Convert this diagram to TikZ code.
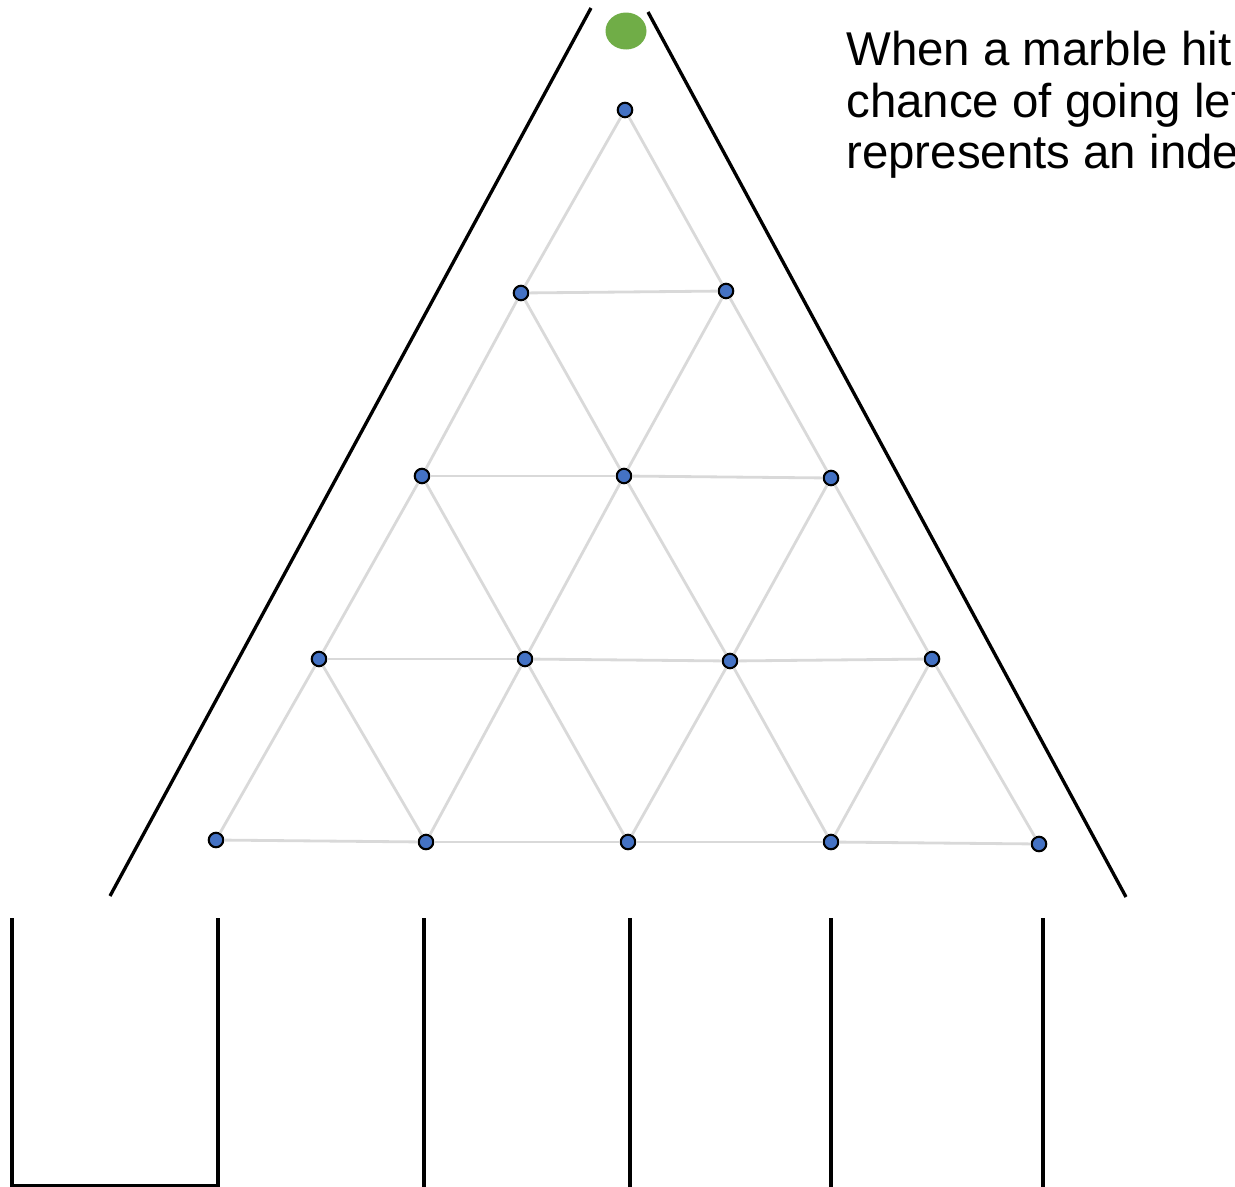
\documentclass[tikz,border=0pt]{standalone}
\usepackage{fontspec}
\setmainfont{Liberation Sans}
\usetikzlibrary{shapes.geometric}
\definecolor{pegblue}{HTML}{4472C4}
\definecolor{gridgrey}{HTML}{D9D9D9}
\definecolor{marblegreen}{HTML}{70AD47}
\begin{document}
\begin{tikzpicture}[x=0.02cm,y=-0.02cm,
  pegnode/.style={circle,draw=black,line width=1.2pt,fill=pegblue,minimum size=0.29cm,inner sep=0pt},
  gridline/.style={draw=gridgrey,line width=1.6pt},
  wall/.style={draw=black,line width=1.9pt},
  txt/.style={anchor=base west,inner sep=0pt,font=\fontsize{27}{30}\selectfont}]
\useasboundingbox (0,0) rectangle (1235,1187);
\clip (0,0) rectangle (1235,1187);
% walls
\draw[wall] (591,8) -- (110,896);
\draw[wall] (648,12) -- (1126,897);
% bins
\draw[wall] (12,918) -- (12,1186) -- (218,1186) -- (218,918);
\foreach \x in {424,630,831,1043}{\draw[wall] (\x,918) -- (\x,1187);}
% marble
\node[ellipse,fill=marblegreen,minimum width=0.82cm,minimum height=0.74cm,inner sep=0pt] (marble) at (626,31) {};
% pegs
\node[pegnode] (p00) at (625,110) {};
\node[pegnode] (p10) at (521,293) {};
\node[pegnode] (p11) at (726,291) {};
\node[pegnode] (p20) at (422,476) {};
\node[pegnode] (p21) at (624,476) {};
\node[pegnode] (p22) at (831,478) {};
\node[pegnode] (p30) at (319,659) {};
\node[pegnode] (p31) at (525,659) {};
\node[pegnode] (p32) at (730,661) {};
\node[pegnode] (p33) at (932,659) {};
\node[pegnode] (p40) at (216,840) {};
\node[pegnode] (p41) at (426,842) {};
\node[pegnode] (p42) at (628,842) {};
\node[pegnode] (p43) at (831,842) {};
\node[pegnode] (p44) at (1039,844) {};
% lattice
\foreach \r in {0,...,3}{
  \pgfmathtruncatemacro\rn{\r+1}
  \foreach \i in {0,...,\r}{
    \pgfmathtruncatemacro\ii{\i+1}
    \draw[gridline] (p\r\i) -- (p\rn\i);
    \draw[gridline] (p\r\i) -- (p\rn\ii);
  }
}
\foreach \r in {1,...,4}{
  \pgfmathtruncatemacro\rm{\r-1}
  \foreach \i in {0,...,\rm}{
    \pgfmathtruncatemacro\ii{\i+1}
    \draw[gridline] (p\r\i) -- (p\r\ii);
  }
}
% text
\node[txt] (t1) at (846,65) {When a marble hit};
\node[txt] (t2) at (846,117) {chance of going lef};
\node[txt] (t3) at (846,168) {represents an inde};
\end{tikzpicture}
\end{document}
